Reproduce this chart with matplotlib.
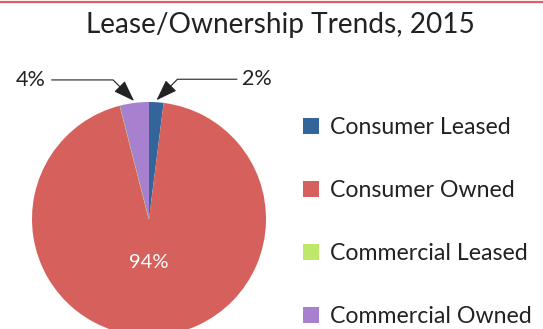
import numpy as np
import matplotlib.pyplot as plt
from matplotlib.lines import Line2D

plt.rcParams['font.family'] = ['Lato', 'DejaVu Sans']

# Lease / ownership split for 2015 (percent)
categories = ["Consumer Leased", "Consumer Owned", "Commercial Leased", "Commercial Owned"]
shares = [2, 94, 0, 4]
colors = ["#33659b", "#d6605c", "#bee86a", "#a781cf"]
title = "Lease/Ownership Trends, 2015"

W, H = 543, 329
fig = plt.figure(figsize=(W / 100, H / 100), dpi=100)
ax = fig.add_axes([0, 0, 1, 1])

cx, cy, r = 149, H - 219, 117
wedges, _ = ax.pie(shares, colors=colors, startangle=90, counterclock=False,
                   center=(cx, cy), radius=r,
                   wedgeprops=dict(linewidth=0))
# zero-size slice still shows as a hairline on the boundary
wedges[2].set_edgecolor(colors[2])
wedges[2].set_linewidth(0.6)

ax.set_xlim(0, W)
ax.set_ylim(0, H)
ax.set_aspect('equal')
ax.axis('off')

# thin accent rule along the top edge
ax.axhline(H - 1.5, color="#e25d66", lw=1.6)

fig.text(280 / W, 1 - 25 / H, title, ha='center', va='center',
         fontsize=20.2, color="#222222")

# large-slice value inside the pie
ax.text(cx, H - 262, f"{shares[1]}%", ha='center', va='center',
        fontsize=14.5, color='white')

# callouts for the thin slices
def callout(idx, side):
    total = sum(shares)
    start = 90 - 360 * sum(shares[:idx]) / total
    mid = np.deg2rad(start - 180 * shares[idx] / total)
    tx, ty = cx + (r + 2) * np.cos(mid), cy + (r + 2) * np.sin(mid)
    rise = 24
    text_y = ty + rise
    if side == 'left':
        xt, ha, angB = tx - rise - 64, 'right', -45
    else:
        xt, ha, angB = tx + rise + 62, 'left', 45
    ax.annotate(f"{shares[idx]}%", xy=(tx, ty), xytext=(xt, text_y - 3),
                ha=ha, va='center', fontsize=15.5, color="#222222",
                arrowprops=dict(arrowstyle='-|>,head_length=0.85,head_width=0.3',
                                connectionstyle=f'angle,angleA=0,angleB={angB},rad=0',
                                color="#222222", lw=0.8, shrinkA=2, shrinkB=0))

callout(3, 'left')
callout(0, 'right')

handles = [Line2D([], [], marker='s', linestyle='none', markersize=11.5,
                  markerfacecolor=c, markeredgewidth=0) for c in colors]
fig.legend(handles, categories, loc='upper left',
           bbox_to_anchor=(299.4 / W, 1 - 117 / H), frameon=False,
           fontsize=16.7, labelspacing=1.81, handlelength=1.0,
           handletextpad=0.33, borderpad=0, borderaxespad=0,
           labelcolor="#222222")

fig.savefig("out.png", dpi=100)
